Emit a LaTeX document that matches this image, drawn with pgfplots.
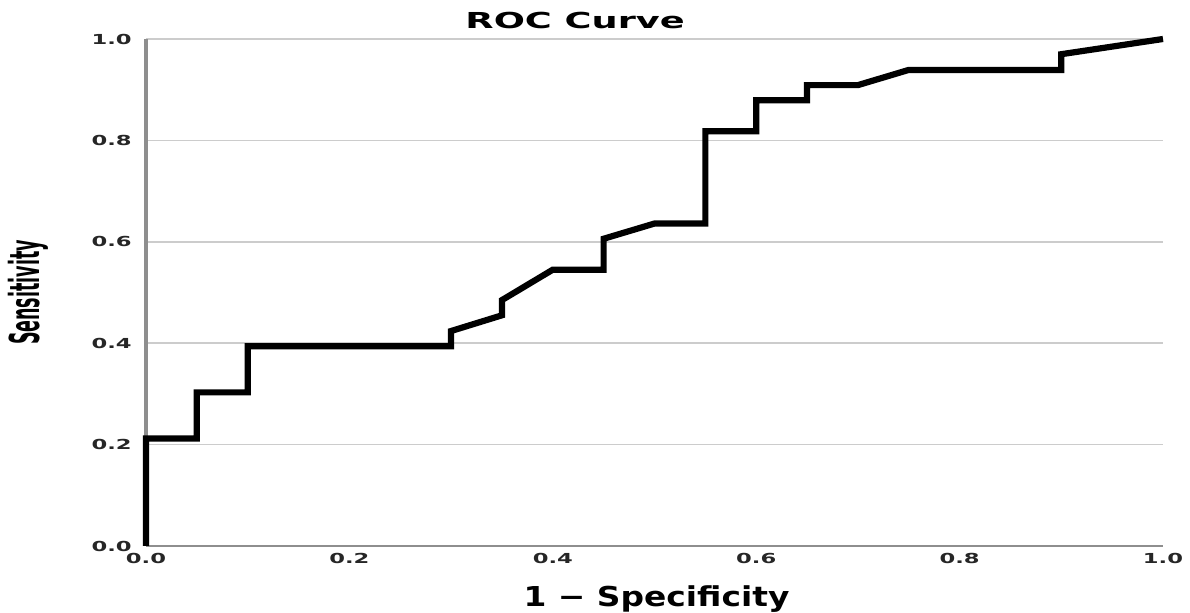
\documentclass[border=0pt]{standalone}
\usepackage{fontspec}
\setmainfont{DejaVu Sans}
\usepackage{pgfplots}
\pgfplotsset{compat=1.18}
\definecolor{gridgray}{HTML}{CCCCCC}
\definecolor{axgray}{HTML}{8E8E8E}
\begin{document}
\begin{tikzpicture}
\useasboundingbox (-73pt,-33.5pt) rectangle (522pt,273pt);
\begin{axis}[
  scale only axis,
  width=508.5pt, height=253.5pt,
  xmin=0, xmax=1, ymin=0, ymax=1,
  axis x line*=bottom, axis y line*=left,
  axis line style={-, draw=none},
  xtick={0,0.2,0.4,0.6,0.8,1.0},
  ytick={0,0.2,0.4,0.6,0.8,1.0},
  major tick length=0pt,
  ymajorgrids,
  grid style={gridgray, line width=0.8pt},
  /pgf/number format/assume math mode=true,
  xticklabel={\scalebox{1.64}[1]{\bfseries\pgfmathprintnumber[fixed,precision=1,fixed zerofill]{\tick}}},
  yticklabel={\scalebox{1.64}[1]{\bfseries\pgfmathprintnumber[fixed,precision=1,fixed zerofill]{\tick}}},
  xticklabel style={font=\fontsize{6.9}{8}\selectfont, color=black!85, inner sep=0pt, anchor=north, yshift=-3.5pt},
  yticklabel style={font=\fontsize{6.9}{8}\selectfont, color=black!85, inner sep=0pt, anchor=east, xshift=-7pt},
  xlabel={\scalebox{1.2}[1]{\bfseries 1 − Specificity}},
  xlabel style={font=\fontsize{13.7}{15}\selectfont, at={(axis description cs:0.502,0)}, anchor=base, inner sep=0pt, yshift=-30.5pt},
  ylabel={\scalebox{0.85}[2.0]{\bfseries Sensitivity}},
  ylabel style={font=\fontsize{10.3}{12}\selectfont, at={(axis description cs:-0.116,0.5)}, anchor=center, inner sep=0pt},
  title={\scalebox{1.67}[1]{\bfseries ROC Curve}},
  title style={font=\fontsize{11}{13}\selectfont, at={(axis description cs:0.422,1)}, anchor=base, inner sep=0pt, yshift=-1pt},
  clip=false,
]
\draw[axgray, line width=1.8pt] (axis cs:0,0) -- (axis cs:0,1);
\draw[axgray, line width=1.4pt] (axis cs:0,0) -- (axis cs:1,0);
\addplot[black, line width=3.1pt, line join=miter, line cap=butt] coordinates {
(0,0) (0,0.212) (0.05,0.212) (0.05,0.303) (0.1,0.303) (0.1,0.394)
(0.3,0.394) (0.3,0.424) (0.35,0.455) (0.35,0.485) (0.4,0.545)
(0.45,0.545) (0.45,0.606) (0.5,0.636) (0.55,0.636) (0.55,0.818)
(0.6,0.818) (0.6,0.879) (0.65,0.879) (0.65,0.909) (0.7,0.909)
(0.75,0.939) (0.9,0.939) (0.9,0.970) (1,1)
};
\end{axis}
\end{tikzpicture}
\end{document}
